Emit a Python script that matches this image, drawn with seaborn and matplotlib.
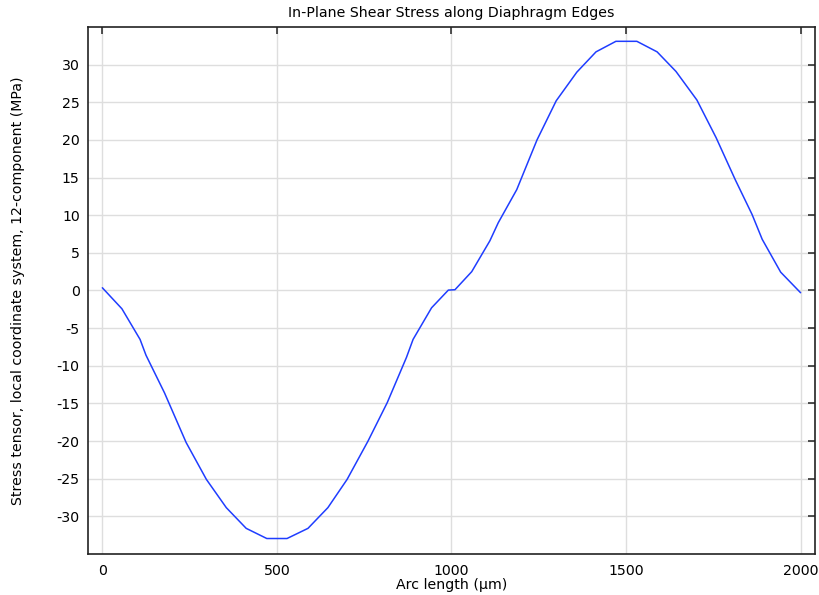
import matplotlib
matplotlib.use("Agg")
import matplotlib.pyplot as plt
import seaborn as sns
import pandas as pd

# arc length along the diaphragm edges (um) and shear stress (MPa)
arc_length = [0, 56, 108, 125, 178, 240, 298, 355, 412, 471, 529, 589, 646, 701,
              761, 816, 871, 890, 943, 991, 1010, 1058, 1110, 1134, 1187, 1245,
              1300, 1359, 1414, 1471, 1531, 1589, 1643, 1703, 1758, 1813, 1861,
              1890, 1943, 2000]
shear_stress = [0.36, -2.43, -6.5, -8.6, -13.6, -20.2, -25.1, -28.85, -31.6, -32.95,
                -32.95, -31.6, -28.85, -25.1, -20.0, -14.9, -8.9, -6.5, -2.3, 0.05,
                0.1, 2.5, 6.6, 9.0, 13.4, 20.0, 25.2, 29.0, 31.7, 33.1, 33.1, 31.7,
                29.1, 25.3, 20.3, 14.7, 10.1, 6.8, 2.43, -0.3]

xticks = [0, 500, 1000, 1500, 2000]
yticks = [-30, -25, -20, -15, -10, -5, 0, 5, 10, 15, 20, 25, 30]

df = pd.DataFrame({"arc": arc_length, "stress": shear_stress})

sns.set_theme(style="whitegrid")
plt.rcParams["font.family"] = ["DejaVu Sans"]
plt.rcParams["axes.unicode_minus"] = False
plt.rcParams["text.color"] = "black"
plt.rcParams["axes.labelcolor"] = "black"

fs = 10.2
fig = plt.figure(figsize=(8.19, 5.95), dpi=100)
ax = fig.add_axes([0.1075, 0.069, 0.8875, 0.8856])

sns.lineplot(data=df, x="arc", y="stress", sort=False, color="#1f3dff",
             linewidth=1.1, ax=ax)

ax.set_xlim(-41, 2041)
ax.set_ylim(-35, 35)
ax.set_xticks(xticks)
ax.set_yticks(yticks)
ax.set_facecolor("white")
ax.grid(True, color="#dedede", linewidth=1.0)
for s in ax.spines.values():
    s.set_color("#222222")
    s.set_linewidth(1.2)
ax.tick_params(direction="in", length=5, width=1.1, color="#222222",
               top=True, right=True, labelsize=fs, labelcolor="black", pad=6)
ax.tick_params(axis="x", pad=7)

ax.set_title("In-Plane Shear Stress along Diaphragm Edges", fontsize=fs, pad=7,
             color="black")
ax.set_xlabel("Arc length (µm)", fontsize=fs, labelpad=0)
ax.set_ylabel("Stress tensor, local coordinate system, 12-component (MPa)",
              fontsize=fs, labelpad=23)

fig.savefig("out.png", dpi=100)
